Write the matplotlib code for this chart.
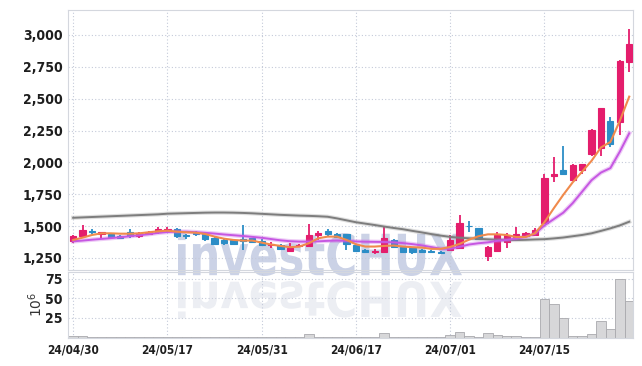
import matplotlib
matplotlib.use('Agg')
import matplotlib.pyplot as plt
from matplotlib.patches import PathPatch
from matplotlib.textpath import TextPath
from matplotlib.font_manager import FontProperties
from matplotlib.transforms import Affine2D, IdentityTransform
from matplotlib.ticker import FuncFormatter

# trading days shown on the chart
dates = [
    '24/04/30', '24/05/02', '24/05/03', '24/05/07', '24/05/08', '24/05/09', '24/05/10', '24/05/13', '24/05/14', '24/05/16',
    '24/05/17', '24/05/20', '24/05/21', '24/05/22', '24/05/23', '24/05/24', '24/05/27', '24/05/28', '24/05/29', '24/05/30',
    '24/05/31', '24/06/03', '24/06/04', '24/06/05', '24/06/07', '24/06/10', '24/06/11', '24/06/12', '24/06/13', '24/06/14',
    '24/06/17', '24/06/18', '24/06/19', '24/06/20', '24/06/21', '24/06/24', '24/06/25', '24/06/26', '24/06/27', '24/06/28',
    '24/07/01', '24/07/02', '24/07/03', '24/07/04', '24/07/05', '24/07/08', '24/07/09', '24/07/10', '24/07/11', '24/07/12',
    '24/07/15', '24/07/16', '24/07/17', '24/07/18', '24/07/19', '24/07/22', '24/07/23', '24/07/24', '24/07/25', '24/07/26',
]
opens = [
    1383, 1425, 1461, 1440, 1440, 1420, 1452, 1422, 1440, 1451,
    1466, 1479, 1428, 1448, 1436, 1409, 1391, 1388, 1395, 1404,
    1383, 1355, 1352, 1308, 1342, 1344, 1430, 1461, 1438, 1435,
    1352, 1313, 1295, 1300, 1391, 1339, 1331, 1313, 1305, 1300,
    1313, 1326, 1502, 1482, 1266, 1308, 1378, 1417, 1422, 1430,
    1527, 1896, 1940, 1862, 1940, 2066, 2110, 2328, 2320, 2791,
]
highs = [
    1430, 1508, 1475, 1455, 1448, 1430, 1480, 1455, 1460, 1495,
    1490, 1487, 1440, 1465, 1448, 1417, 1396, 1400, 1510, 1410,
    1395, 1376, 1360, 1364, 1356, 1516, 1464, 1477, 1443, 1440,
    1360, 1318, 1318, 1495, 1398, 1347, 1339, 1318, 1310, 1305,
    1430, 1586, 1542, 1487, 1344, 1450, 1443, 1495, 1456, 1482,
    1909, 2040, 2129, 1985, 1990, 2258, 2428, 2359, 2803, 3045,
]
lows = [
    1370, 1417, 1440, 1395, 1400, 1400, 1410, 1408, 1430, 1440,
    1455, 1410, 1400, 1418, 1385, 1352, 1352, 1350, 1313, 1365,
    1340, 1330, 1310, 1300, 1335, 1338, 1390, 1418, 1405, 1313,
    1296, 1288, 1282, 1292, 1326, 1292, 1282, 1296, 1290, 1280,
    1305, 1318, 1451, 1390, 1222, 1300, 1326, 1410, 1415, 1420,
    1520, 1843, 1905, 1855, 1909, 2050, 2050, 2124, 2215, 2712,
]
closes = [
    1422, 1469, 1453, 1451, 1412, 1407, 1422, 1443, 1456, 1474,
    1480, 1425, 1422, 1436, 1400, 1362, 1368, 1360, 1380, 1378,
    1352, 1360, 1318, 1331, 1352, 1430, 1443, 1438, 1417, 1357,
    1308, 1297, 1305, 1404, 1339, 1300, 1300, 1300, 1295, 1287,
    1391, 1521, 1498, 1396, 1339, 1430, 1430, 1438, 1443, 1469,
    1875, 1909, 1909, 1980, 1987, 2254, 2425, 2144, 2799, 2930,
]
volume = [  # millions of shares
    1.5, 2.5, 0.5, 1.2, 0.5, 1.0, 1.0, 0.3, 0.3, 0.3,
    0.3, 0.3, 0.3, 0.3, 0.3, 0.3, 0.3, 0.3, 1.0, 1.0,
    0.3, 0.3, 0.3, 0.3, 0.3, 4.5, 1.2, 1.0, 0.3, 0.3,
    1.2, 0.3, 0.3, 5.5, 0.3, 0.3, 0.3, 0.3, 0.3, 0.3,
    3.4, 6.5, 2.5, 1.2, 5.6, 3.4, 2.2, 2.2, 1.0, 1.0,
    48.5, 43.0, 25.0, 2.0, 2.0, 4.0, 21.0, 11.0, 75.0, 47.0,
]
ma_short = [
    1391, 1409, 1430, 1443, 1443, 1440, 1440, 1443, 1451, 1459,
    1464, 1456, 1451, 1448, 1438, 1417, 1401, 1391, 1386, 1386,
    1370, 1355, 1344, 1334, 1339, 1365, 1404, 1417, 1417, 1391,
    1357, 1339, 1339, 1344, 1347, 1339, 1334, 1331, 1321, 1321,
    1336, 1360, 1393, 1420, 1435, 1435, 1430, 1414, 1414, 1443,
    1530, 1640, 1745, 1843, 1927, 2012, 2117, 2160, 2326, 2516,
]
ma_mid = [
    1380, 1386, 1393, 1399, 1405, 1412, 1420, 1428, 1436, 1446,
    1453, 1456, 1456, 1452, 1447, 1441, 1434, 1428, 1422, 1415,
    1408, 1398, 1388, 1381, 1378, 1378, 1380, 1384, 1386, 1384,
    1379, 1377, 1376, 1375, 1372, 1366, 1358, 1348, 1335, 1322,
    1322, 1337, 1355, 1365, 1372, 1384, 1391, 1402, 1415, 1440,
    1505, 1555, 1605, 1680, 1770, 1860, 1920, 1955, 2084, 2228,
]
ma_long = [
    1565, 1568, 1571, 1574, 1577, 1580, 1583, 1586, 1589, 1592,
    1597, 1599, 1601, 1603, 1605, 1606, 1606, 1605, 1603, 1600,
    1596, 1592, 1588, 1585, 1582, 1580, 1577, 1573, 1560, 1545,
    1530, 1519, 1508, 1496, 1485, 1475, 1462, 1450, 1437, 1425,
    1415, 1408, 1404, 1400, 1396, 1393, 1391, 1390, 1392, 1395,
    1397, 1403, 1410, 1420, 1430, 1443, 1462, 1482, 1505, 1534,
]
tick_idx = [0, 10, 20, 30, 40, 50]
price_ticks = [1250, 1500, 1750, 2000, 2250, 2500, 2750, 3000]
vol_ticks = [25, 50, 75]

UP = '#e41d6c'
DOWN = '#2c8dc6'
GRID = '#c4cad9'
SPINE = '#d4d7de'

W, H = 642, 366
fig = plt.figure(figsize=(W / 100, H / 100), dpi=100)


def px_axes(left, top, right, bottom):
    return fig.add_axes([left / W, 1 - bottom / H, (right - left) / W, (bottom - top) / H])


ax = px_axes(68, 9.5, 633, 270)
axv = px_axes(68, 271.5, 633, 337.5)

x = list(range(len(dates)))
colors = [UP if c >= o else DOWN for o, c in zip(opens, closes)]
bottoms = [min(o, c) for o, c in zip(opens, closes)]
heights = [abs(c - o) for o, c in zip(opens, closes)]

# watermark with its reflection, drawn behind everything
fp = FontProperties(family='DejaVu Sans', weight='bold')
tp = TextPath((0, 0), 'investCHUX', size=100, prop=fp)
ext = tp.get_extents()
sx = 284 / ext.width
sy = 44 / ext.height
up = Affine2D().translate(-ext.x0, -ext.y0).scale(sx, sy).translate(178, H - 276)
down = Affine2D().translate(-ext.x0, -ext.y0).scale(sx, -sy * 0.85).translate(178, H - 281)
fig.add_artist(PathPatch(up.transform_path(tp), transform=IdentityTransform(),
                         facecolor='#cbd2e6', edgecolor='none', zorder=-1))
fig.add_artist(PathPatch(down.transform_path(tp), transform=IdentityTransform(),
                         facecolor='#eceef3', edgecolor='none', zorder=-1))

for a in (ax, axv):
    a.set_facecolor('none')
    for s in a.spines.values():
        s.set_color(SPINE)
        s.set_linewidth(0.8)
    a.grid(True, color=GRID, linestyle=(0, (1, 2)), linewidth=0.8)
    a.tick_params(length=0, colors='#1e1e1e', pad=4)
    a.set_xlim(-0.55, 59.4)
    a.set_xticks(tick_idx)

# candles
ax.vlines(x, lows, highs, colors=colors, linewidth=1.3, zorder=2)
ax.bar(x, heights, bottom=bottoms, width=0.66, color=colors, edgecolor=colors, linewidth=0.8, zorder=3)

# moving averages
ax.plot(x, ma_long, color='#7d7d7d', linewidth=3.0, alpha=0.25, zorder=4)
ax.plot(x, ma_long, color='#7d7d7d', linewidth=1.4, zorder=4)
ax.plot(x, ma_mid, color='#c657e2', linewidth=3.2, alpha=0.3, zorder=4)
ax.plot(x, ma_mid, color='#c657e2', linewidth=1.4, zorder=4)
ax.plot(x, ma_short, color='#f08a4c', linewidth=1.5, zorder=5)

ax.set_ylim(1155, 3200)
ax.set_yticks(price_ticks)
ax.yaxis.set_major_formatter(FuncFormatter(lambda v, p: f'{v:,.0f}'))
ax.set_xticklabels([])

# volume
axv.bar(x, volume, width=1.0, color='#d7d7d9', edgecolor='#a9a9ad', linewidth=0.6, zorder=2)
axv.set_ylim(0, 84)
axv.set_yticks(vol_ticks)
axv.set_xticklabels([dates[i] for i in tick_idx])
axv.text(-0.058, 0.5, r'$10^6$', transform=axv.transAxes, rotation=90,
         ha='center', va='center', fontsize=10, color='#333333')

for a in (ax, axv):
    for lab in a.get_yticklabels():
        lab.set_family('DejaVu Sans')
        lab.set_fontstretch('condensed')
        lab.set_fontweight('bold')
        lab.set_fontsize(10)
for lab in axv.get_xticklabels():
    lab.set_family('DejaVu Sans')
    lab.set_fontstretch('condensed')
    lab.set_fontweight('bold')
    lab.set_fontsize(8.5)

fig.savefig('out.png', dpi=100, facecolor='white')
